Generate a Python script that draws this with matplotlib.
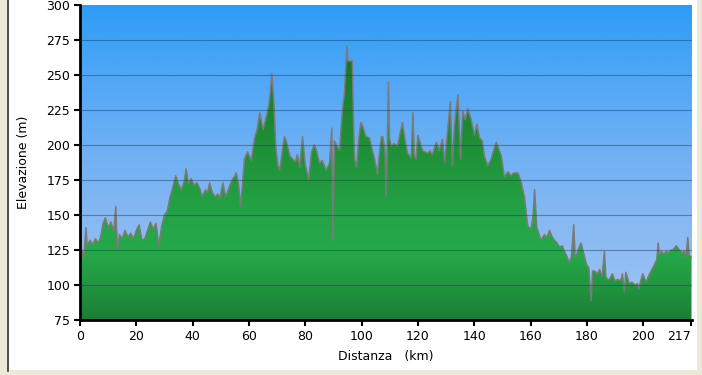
import numpy as np
import matplotlib
matplotlib.use("Agg")
import matplotlib.pyplot as plt
from matplotlib.colors import LinearSegmentedColormap
from matplotlib.patches import Polygon, Rectangle
from matplotlib.lines import Line2D

# profile: distance (km) and elevation (m)
km = [0, 0.7, 1.3, 2.1, 2.6, 3.5, 4.5, 5.5, 6.5, 7.3, 8.2, 9.0, 10.0, 11.0, 12.0, 12.7,
      13.3, 14.0, 15.0, 16.0, 17.0, 18.0, 19.0, 20.0, 21.0, 22.0, 23.0, 24.0, 25.0, 26.0,
      27.0, 28.0, 29.0, 30.0, 31.0, 32.0, 33.0, 34.0, 35.0, 36.0, 37.0, 37.7, 38.5, 39.5,
      40.5, 41.5, 42.5, 43.5, 44.5, 45.3, 46.0, 47.0, 48.0, 49.0, 49.7, 50.7, 51.8, 53.0,
      54.0, 55.0, 55.5, 56.3, 57.0, 57.6, 58.4, 59.5, 60.8, 62.0, 63.0, 63.8, 65.0, 66.0,
      67.0, 67.6, 68.1, 68.8, 69.5, 70.3, 70.9, 72.0, 72.6, 73.2, 73.8, 74.6, 75.5, 76.5,
      77.2, 78.0, 79.0, 80.0, 81.2, 82.2, 83.2, 84.0, 85.0, 86.0, 87.4, 88.6, 89.4, 89.8,
      90.3, 91.3, 92.2, 92.8, 93.3, 93.9, 94.5, 94.8, 95.1, 96.7, 97.1, 97.5, 98.2, 99.0,
      99.7, 100.3, 101.5, 102.8, 103.6, 104.6, 105.6, 106.4, 107.0, 107.5, 108.3, 108.7,
      109.1, 109.5, 109.9, 110.5, 111.5, 112.7, 113.5, 114.5, 115.3, 116.3, 117.6, 118.2,
      118.7, 119.3, 120.0, 121.0, 121.7, 123.4, 124.2, 125.1, 126.5, 127.6, 128.7, 129.5,
      130.5, 131.5, 132.2, 133.0, 134.2, 135.1, 135.9, 136.8, 137.7, 138.9, 140.1, 140.9,
      141.9, 142.8, 143.6, 144.8, 146.0, 147.0, 147.8, 148.7, 149.6, 150.7, 152.0, 153.0,
      154.0, 155.5, 156.7, 157.8, 158.5, 159.0, 160.2, 160.9, 161.4, 162.2, 163.7, 164.9,
      165.8, 166.7, 167.5, 168.4, 169.4, 170.3, 171.2, 172.0, 173.0, 173.6, 174.5, 175.3,
      175.8, 176.1, 177.0, 177.9, 178.9, 179.8, 180.7, 181.5, 182.0, 182.7, 183.6, 184.5,
      185.4, 186.2, 186.7, 187.3, 188.0, 189.0, 190.0, 191.0, 192.0, 192.6, 193.3, 193.8,
      195.0, 196.0, 197.0, 198.0, 198.4, 199.1, 199.8, 201.0, 202.0, 202.8, 203.8, 204.8,
      205.3, 205.7, 206.5, 207.3, 208.1, 209.0, 210.0, 210.5, 211.7, 212.8, 213.8, 214.6,
      215.2, 215.8, 216.3, 217.0]
elev = [113, 125, 118, 141, 128, 132, 129, 133, 130, 134, 144, 148, 141, 145, 138, 156,
        124, 136, 133, 139, 134, 137, 133, 139, 143, 132, 133, 139, 145, 140,
        144, 128, 142, 150, 153, 163, 170, 178, 172, 168, 174, 183, 172, 176,
        171, 173, 169, 163, 168, 166, 173, 166, 163, 165, 162, 173, 163, 170,
        175, 178, 180, 172, 156, 170, 190, 195, 189, 205, 212, 223, 211, 219,
        228, 238, 251, 232, 199, 185, 182, 198, 206, 203, 198, 192, 190, 188,
        193, 184, 206, 186, 175, 195, 200, 196, 187, 189, 182, 187, 212, 132,
        203, 199, 196, 215, 227, 237, 261, 271, 260, 260, 215, 190, 184, 205,
        216, 214, 206, 205, 198, 190, 179, 196, 206, 206, 196, 163,
        200, 245, 205, 199, 201, 199, 207, 216, 205, 194, 191, 223,
        192, 190, 207, 200, 196, 194, 196, 193, 202, 196, 204, 187,
        210, 231, 185, 215, 236, 190, 224, 218, 226, 218, 207, 215,
        205, 203, 192, 185, 190, 197, 202, 197, 192, 177, 181, 178,
        180, 180, 173, 163, 150, 142, 140, 150, 168, 141, 132, 136,
        134, 139, 135, 132, 130, 127, 128, 124, 120, 116, 120, 143,
        120, 120, 126, 130, 122, 115, 112, 89, 110, 110, 108, 111,
        106, 124, 106, 104, 104, 108, 103, 104, 103, 108, 95, 109,
        101, 102, 100, 101, 97, 103, 108, 102, 107, 110, 114, 118,
        130, 122, 124, 122, 124, 123, 125, 125, 128, 125, 123, 124,
        120, 134, 121, 120]

xticks = [0, 20, 40, 60, 80, 100, 120, 140, 160, 180, 200, 217]
yticks = [75, 100, 125, 150, 175, 200, 225, 250, 275, 300]

fig = plt.figure(figsize=(7.02, 3.75), dpi=100, facecolor="#ece9d8")
# white panel with dark left border
fig.patches.append(Rectangle((9 / 702, 5 / 375), 688 / 702, 370 / 375,
                             transform=fig.transFigure, facecolor="white",
                             edgecolor="none", zorder=-5))
fig.lines.append(Line2D([8 / 702, 8 / 702], [4 / 375, 1], transform=fig.transFigure,
                        color="#333333", lw=1.2, zorder=-4))

ax = fig.add_axes([80 / 702, 55 / 375, 612 / 702, 315 / 375])
ax.set_xlim(0, 217.3)
ax.set_ylim(75, 300)

grad = np.linspace(300, 75, 256)[:, None]
ext = [0, 217.3, 75, 300]

# sky gradient
sky = LinearSegmentedColormap.from_list("sky", [(0, "#9ec4f4"), (0.33, "#86b8f2"),
                                                (0.55, "#6cb0f4"), (0.78, "#4ea7f6"),
                                                (1, "#2e9cf6")])
ax.imshow(grad, extent=ext, aspect="auto", cmap=sky, vmin=75, vmax=300, zorder=0)

# green fill with its own gradient, clipped to the profile
grn = LinearSegmentedColormap.from_list("grn", [(0, "#1b7d35"), (0.11, "#21973f"),
                                                (0.22, "#25a94b"), (0.33, "#24a347"),
                                                (0.55, "#1f9038"), (0.78, "#1a7a2e"),
                                                (1, "#156424")])
verts = np.column_stack([[km[0]] + km + [km[-1]], [75] + elev + [75]])
poly = Polygon(verts, closed=True, facecolor="none", edgecolor="none")
ax.add_patch(poly)
im = ax.imshow(grad, extent=ext, aspect="auto", cmap=grn, vmin=75, vmax=300, zorder=1)
im.set_clip_path(poly)

ax.plot(km, elev, color="#7a7a7a", lw=1.1, zorder=2)

for y in yticks[1:-1]:
    ax.axhline(y, color="#1c3550", lw=0.8, alpha=0.45, zorder=3)

ax.set_xticks(xticks)
ax.set_yticks(yticks)
ax.tick_params(direction="out", length=4, width=1.5, labelsize=9, colors="black")
ax.tick_params(axis="y", pad=3)
ax.get_xticklabels()[-1].set_horizontalalignment("right")
for s in ["top", "right"]:
    ax.spines[s].set_visible(False)
for s in ["left", "bottom"]:
    ax.spines[s].set_linewidth(2)
ax.set_ylabel("Elevazione (m)", fontsize=9, labelpad=12)
ax.set_xlabel("Distanza   (km)", fontsize=9, labelpad=5)

plt.savefig("out.png", dpi=100, facecolor=fig.get_facecolor())
